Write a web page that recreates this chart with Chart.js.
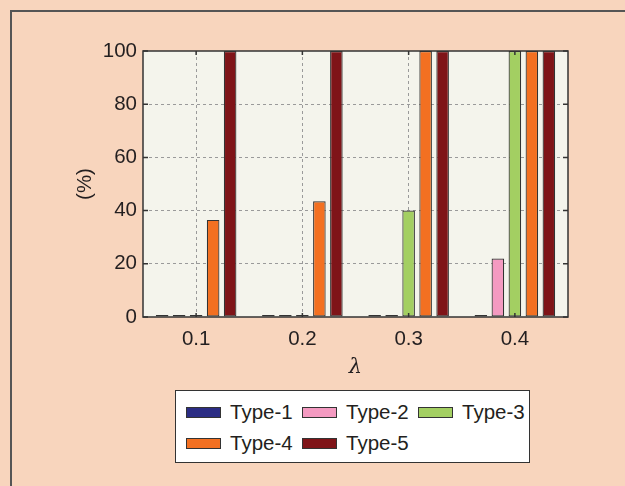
<!DOCTYPE html>
<html>
<head>
<meta charset="utf-8">
<script src="https://cdn.jsdelivr.net/npm/chart.js@4"></script>
<style>
  html, body { margin: 0; padding: 0; background: #f8d5bd; overflow: hidden; }
  #wrap { position: relative; width: 625px; height: 486px; overflow: hidden; }
  #chart { position: absolute; left: 0; top: 0; }
  #legend { position: absolute; left: 175px; top: 390px; width: 353px; height: 71px;
            background: #fff; border: 1px solid #333; font-family: "Liberation Sans", Arial, sans-serif;
            font-size: 20.5px; color: #231f20; }
  .item { position: absolute; height: 22px; line-height: 22px; white-space: nowrap; }
  .sw { position: absolute; left: 0; top: 5px; width: 33px; height: 9px; border: 1px solid #333; }
  .lbl { position: absolute; left: 44px; top: -1px; }
</style>
</head>
<body>
<div id="wrap">
  <canvas id="chart" width="625" height="486"></canvas>
  <div id="legend"></div>
</div>
<script>
// valeurs
const lambdas = ["0.1", "0.2", "0.3", "0.4"];
const type1 = [0, 0, 0, 0];
const type2 = [0, 0, 0, 22];
const type3 = [0, 0, 40, 100];
const type4 = [36.5, 43.5, 100, 100];
const type5 = [100, 100, 100, 100];
const yTicks = [0, 20, 40, 60, 80, 100];

const seriesNames = ["Type-1", "Type-2", "Type-3", "Type-4", "Type-5"];
const seriesColors = ["#2b2d84", "#f49ac1", "#a3cf62", "#f37021", "#7f1418"];
const series = [type1, type2, type3, type4, type5];

const FONT = '"Liberation Sans", Arial, sans-serif';

// fond de la zone de tracé + cadre + titres
const plotDecor = {
  id: 'plotDecor',
  beforeDraw(chart) {
    const { ctx, chartArea: a } = chart;
    ctx.save();
    // cadre de la figure (haut + gauche seulement)
    ctx.strokeStyle = '#555';
    ctx.lineWidth = 2;
    ctx.beginPath();
    ctx.moveTo(11, chart.height);
    ctx.lineTo(11, 11);
    ctx.lineTo(chart.width, 11);
    ctx.stroke();

    ctx.fillStyle = '#f4f4ec';
    ctx.fillRect(a.left, a.top, a.right - a.left, a.bottom - a.top);
    ctx.restore();
  },
  afterDatasetsDraw(chart) {
    const { ctx, chartArea: a, scales } = chart;
    ctx.save();
    ctx.strokeStyle = '#333';
    ctx.lineWidth = 1.5;
    ctx.strokeRect(a.left, a.top, a.right - a.left, a.bottom - a.top);

    // petites graduations vers l'intérieur (style matlab)
    ctx.beginPath();
    scales.x.ticks.forEach((t, i) => {
      const x = scales.x.getPixelForTick(i);
      ctx.moveTo(x, a.top); ctx.lineTo(x, a.top + 4);
      ctx.moveTo(x, a.bottom); ctx.lineTo(x, a.bottom - 4);
    });
    yTicks.forEach(v => {
      const y = scales.y.getPixelForValue(v);
      ctx.moveTo(a.left, y); ctx.lineTo(a.left + 5, y);
      ctx.moveTo(a.right, y); ctx.lineTo(a.right - 5, y);
    });
    ctx.stroke();

    // titres des axes
    ctx.fillStyle = '#231f20';
    ctx.textAlign = 'center';
    ctx.textBaseline = 'middle';
    ctx.font = '20.5px ' + FONT;
    ctx.translate(85, (a.top + a.bottom) / 2);
    ctx.rotate(-Math.PI / 2);
    ctx.fillText('(%)', 0, 0);
    ctx.restore();

    ctx.save();
    ctx.fillStyle = '#231f20';
    ctx.textAlign = 'center';
    ctx.textBaseline = 'middle';
    ctx.font = 'italic 21px "DejaVu Serif", "Liberation Serif", serif';
    ctx.fillText('λ', (a.left + a.right) / 2, 368);
    ctx.restore();
  }
};

const chart = new Chart(document.getElementById('chart'), {
  type: 'bar',
  data: {
    labels: lambdas,
    datasets: series.map((d, i) => ({
      label: seriesNames[i],
      data: d,
      backgroundColor: seriesColors[i],
      borderColor: '#333',
      borderWidth: 1.2,
      borderSkipped: false,
      minBarLength: 2,
      categoryPercentage: 0.8,
      barPercentage: 0.74
    }))
  },
  options: {
    responsive: false,
    animation: false,
    layout: { padding: { left: 0, top: 51, right: 57, bottom: 119 } },
    plugins: {
      legend: { display: false },
      tooltip: { enabled: false }
    },
    scales: {
      x: {
        offset: true,
        grid: {
          offset: false,
          drawTicks: false,
          color: '#9a9a9a',
          lineWidth: 1
        },
        border: { display: false, dash: [3, 3] },
        ticks: {
          color: '#231f20',
          padding: 10,
          font: { family: FONT, size: 20.5 }
        },
        afterFit(scale) { scale.height = 50; }
      },
      y: {
        min: 0,
        max: 100,
        grid: {
          drawTicks: false,
          color: (c) => (c.tick.value === 0 || c.tick.value === 100) ? 'rgba(0,0,0,0)' : '#9a9a9a',
          lineWidth: 1
        },
        border: { display: false, dash: [3, 3] },
        afterBuildTicks(scale) { scale.ticks = yTicks.map(v => ({ value: v })); },
        ticks: {
          color: '#231f20',
          padding: 6,
          font: { family: FONT, size: 20.5 }
        },
        afterFit(scale) { scale.width = 143; }
      }
    }
  },
  plugins: [plotDecor]
});

// légende en html, positions comme sur la figure
const legendEl = document.getElementById('legend');
const colX = [10, 126, 242];
const rowY = [11, 42];
chart.data.datasets.forEach((ds, i) => {
  const item = document.createElement('div');
  item.className = 'item';
  item.style.left = colX[i % 3] + 'px';
  item.style.top = rowY[Math.floor(i / 3)] + 'px';
  item.innerHTML = '<span class="sw" style="background:' + ds.backgroundColor + '"></span>' +
                   '<span class="lbl">' + ds.label + '</span>';
  legendEl.appendChild(item);
});
</script>
</body>
</html>
